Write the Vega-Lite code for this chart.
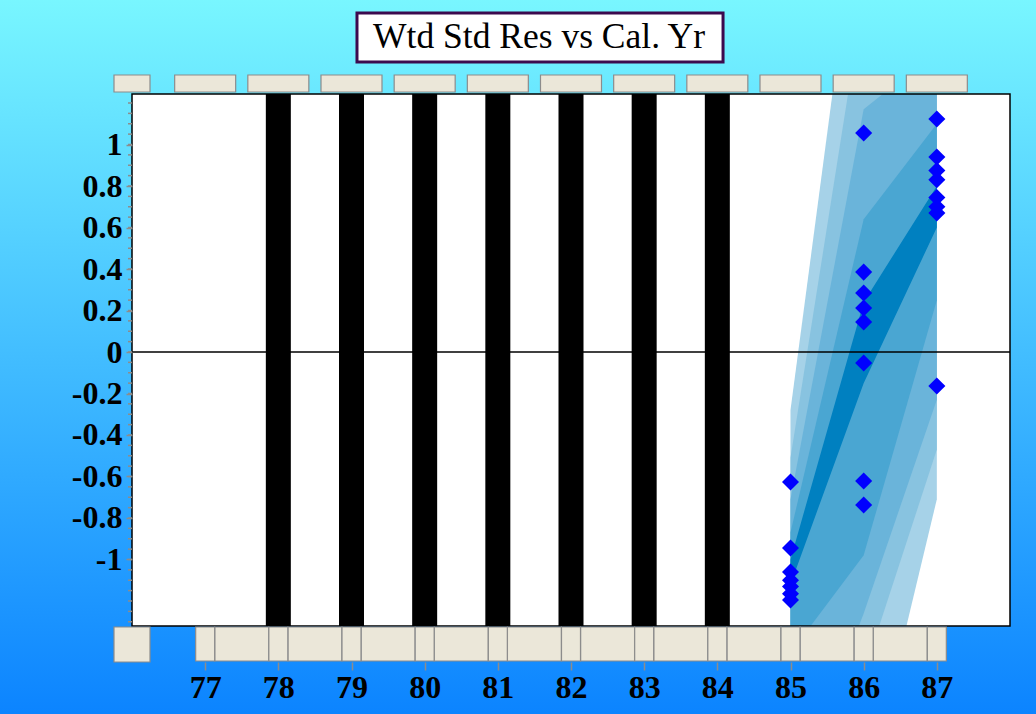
{
  "$schema": "https://vega.github.io/schema/vega-lite/v6.json",
  "width": 878,
  "height": 532,
  "autosize": "none",
  "padding": {"left": 132, "top": 94, "right": 26, "bottom": 88},
  "background": "#2a9cff",
  "config": {"view": {"stroke": null}, "axis": {"grid": false, "domain": false, "zindex": 1}},
  "datasets": {
    "pts": [
      {"year": 85, "v": -0.627}, {"year": 85, "v": -0.945}, {"year": 85, "v": -1.06}, {"year": 85, "v": -1.1}, {"year": 85, "v": -1.13}, {"year": 85, "v": -1.165}, {"year": 85, "v": -1.195},
      {"year": 86, "v": 1.055}, {"year": 86, "v": 0.385}, {"year": 86, "v": 0.284}, {"year": 86, "v": 0.212}, {"year": 86, "v": 0.145}, {"year": 86, "v": -0.053}, {"year": 86, "v": -0.622}, {"year": 86, "v": -0.737},
      {"year": 87, "v": 1.123}, {"year": 87, "v": 0.94}, {"year": 87, "v": 0.875}, {"year": 87, "v": 0.83}, {"year": 87, "v": 0.745}, {"year": 87, "v": 0.7}, {"year": 87, "v": 0.67}, {"year": 87, "v": -0.164}
    ],
    "bands": [
      {"level": 1, "year": 85, "lo": -3.0, "hi": -0.28}, {"level": 1, "year": 86, "lo": -2.18, "hi": 2.38}, {"level": 1, "year": 87, "lo": -0.71, "hi": 3.5},
      {"level": 2, "year": 85, "lo": -2.6, "hi": -0.51}, {"level": 2, "year": 86, "lo": -1.55, "hi": 1.72}, {"level": 2, "year": 87, "lo": -0.47, "hi": 2.6},
      {"level": 3, "year": 85, "lo": -2.2, "hi": -0.71}, {"level": 3, "year": 86, "lo": -1.26, "hi": 1.17}, {"level": 3, "year": 87, "lo": -0.23, "hi": 1.45},
      {"level": 4, "year": 85, "lo": -1.45, "hi": -0.87}, {"level": 4, "year": 86, "lo": -0.98, "hi": 0.64}, {"level": 4, "year": 87, "lo": 0.25, "hi": 1.1},
      {"level": 5, "year": 85, "lo": -1.12, "hi": -1.0}, {"level": 5, "year": 86, "lo": -0.15, "hi": 0.24}, {"level": 5, "year": 87, "lo": 0.6, "hi": 0.8}
    ],
    "gaps": [{"year": 78}, {"year": 79}, {"year": 80}, {"year": 81}, {"year": 82}, {"year": 83}, {"year": 84}],
    "years": [{"year": 77}, {"year": 78}, {"year": 79}, {"year": 80}, {"year": 81}, {"year": 82}, {"year": 83}, {"year": 84}, {"year": 85}, {"year": 86}, {"year": 87}],
    "mids": [{"year": 77.5}, {"year": 78.5}, {"year": 79.5}, {"year": 80.5}, {"year": 81.5}, {"year": 82.5}, {"year": 83.5}, {"year": 84.5}, {"year": 85.5}, {"year": 86.5}],
    "minor": [
      {"v": -1.3}, {"v": -1.25}, {"v": -1.2}, {"v": -1.15}, {"v": -1.1}, {"v": -1.05}, {"v": -1.0}, {"v": -0.95}, {"v": -0.9}, {"v": -0.85}, {"v": -0.8}, {"v": -0.75}, {"v": -0.7}, {"v": -0.65}, {"v": -0.6}, {"v": -0.55}, {"v": -0.5}, {"v": -0.45}, {"v": -0.4}, {"v": -0.35}, {"v": -0.3}, {"v": -0.25}, {"v": -0.2}, {"v": -0.15}, {"v": -0.1}, {"v": -0.05},
      {"v": 0}, {"v": 0.05}, {"v": 0.1}, {"v": 0.15}, {"v": 0.2}, {"v": 0.25}, {"v": 0.3}, {"v": 0.35}, {"v": 0.4}, {"v": 0.45}, {"v": 0.5}, {"v": 0.55}, {"v": 0.6}, {"v": 0.65}, {"v": 0.7}, {"v": 0.75}, {"v": 0.8}, {"v": 0.85}, {"v": 0.9}, {"v": 0.95}, {"v": 1.0}, {"v": 1.05}, {"v": 1.1}, {"v": 1.15}, {"v": 1.2}
    ]
  },
  "layer": [
    {
      "data": {"values": [{}]},
      "mark": {"type": "rect", "clip": false, "fill": {"gradient": "linear", "x1": 0, "y1": 0, "x2": 0, "y2": 1, "stops": [{"offset": 0, "color": "#7af8ff"}, {"offset": 1, "color": "#0a82ff"}]}},
      "encoding": {
        "x": {"datum": 74.1, "type": "quantitative", "scale": {"domain": [76, 88], "nice": false, "zero": false, "padding": 0},
          "axis": {"values": [77, 78, 79, 80, 81, 82, 83, 84, 85, 86, 87], "format": "d", "title": null, "offset": 36, "tickSize": 8, "tickColor": "#8c8c8c", "tickWidth": 1.5, "labelFont": "Liberation Serif", "labelFontWeight": "bold", "labelFontSize": 32, "labelColor": "#000000", "labelPadding": 2, "labelFlush": false, "labelOverlap": false, "domain": false, "grid": false, "zindex": 1}},
        "x2": {"datum": 88.5},
        "y": {"datum": 1.75, "type": "quantitative", "scale": {"domain": [-1.3205, 1.2434], "nice": false, "zero": false, "padding": 0},
          "axis": {"values": [-1, -0.8, -0.6, -0.4, -0.2, 0, 0.2, 0.4, 0.6, 0.8, 1], "title": null, "tickSize": 6, "tickColor": "#8c8c8c", "tickWidth": 1.5, "labelFont": "Liberation Serif", "labelFontWeight": "bold", "labelFontSize": 32, "labelColor": "#000000", "labelPadding": 4, "labelFlush": false, "labelOverlap": false, "labelExpr": "'' + round(datum.value * 10) / 10", "domain": false, "grid": false, "zindex": 1}},
        "y2": {"datum": -1.8}
      }
    },
    {
      "data": {"values": [{}]},
      "mark": {"type": "rect", "fill": "#ffffff"},
      "encoding": {
        "x": {"datum": 76, "type": "quantitative", "scale": {"domain": [76, 88], "nice": false, "zero": false, "padding": 0}},
        "x2": {"datum": 88},
        "y": {"datum": -1.3205, "type": "quantitative", "scale": {"domain": [-1.3205, 1.2434], "nice": false, "zero": false, "padding": 0}},
        "y2": {"datum": 1.2434}
      }
    },
    {
      "data": {"name": "bands"},
      "transform": [{"filter": "datum.level == 1"}],
      "mark": {"type": "area", "clip": true, "color": "#a6d2e8", "opacity": 1},
      "encoding": {
        "x": {"field": "year", "type": "quantitative", "scale": {"domain": [76, 88], "nice": false, "zero": false, "padding": 0}},
        "y": {"field": "lo", "type": "quantitative", "scale": {"domain": [-1.3205, 1.2434], "nice": false, "zero": false, "padding": 0}},
        "y2": {"field": "hi"}
      }
    },
    {
      "data": {"name": "bands"},
      "transform": [{"filter": "datum.level == 2"}],
      "mark": {"type": "area", "clip": true, "color": "#88c3e0", "opacity": 1},
      "encoding": {
        "x": {"field": "year", "type": "quantitative", "scale": {"domain": [76, 88], "nice": false, "zero": false, "padding": 0}},
        "y": {"field": "lo", "type": "quantitative", "scale": {"domain": [-1.3205, 1.2434], "nice": false, "zero": false, "padding": 0}},
        "y2": {"field": "hi"}
      }
    },
    {
      "data": {"name": "bands"},
      "transform": [{"filter": "datum.level == 3"}],
      "mark": {"type": "area", "clip": true, "color": "#6ab4da", "opacity": 1},
      "encoding": {
        "x": {"field": "year", "type": "quantitative", "scale": {"domain": [76, 88], "nice": false, "zero": false, "padding": 0}},
        "y": {"field": "lo", "type": "quantitative", "scale": {"domain": [-1.3205, 1.2434], "nice": false, "zero": false, "padding": 0}},
        "y2": {"field": "hi"}
      }
    },
    {
      "data": {"name": "bands"},
      "transform": [{"filter": "datum.level == 4"}],
      "mark": {"type": "area", "clip": true, "color": "#4aa6d2", "opacity": 1},
      "encoding": {
        "x": {"field": "year", "type": "quantitative", "scale": {"domain": [76, 88], "nice": false, "zero": false, "padding": 0}},
        "y": {"field": "lo", "type": "quantitative", "scale": {"domain": [-1.3205, 1.2434], "nice": false, "zero": false, "padding": 0}},
        "y2": {"field": "hi"}
      }
    },
    {
      "data": {"name": "bands"},
      "transform": [{"filter": "datum.level == 5"}],
      "mark": {"type": "area", "clip": true, "color": "#0080c0", "opacity": 1},
      "encoding": {
        "x": {"field": "year", "type": "quantitative", "scale": {"domain": [76, 88], "nice": false, "zero": false, "padding": 0}},
        "y": {"field": "lo", "type": "quantitative", "scale": {"domain": [-1.3205, 1.2434], "nice": false, "zero": false, "padding": 0}},
        "y2": {"field": "hi"}
      }
    },
    {
      "data": {"name": "gaps"},
      "mark": {"type": "bar", "orient": "vertical", "clip": true, "size": 25, "color": "#000000"},
      "encoding": {
        "x": {"field": "year", "type": "quantitative", "scale": {"domain": [76, 88], "nice": false, "zero": false, "padding": 0}},
        "y": {"datum": -2, "type": "quantitative", "scale": {"domain": [-1.3205, 1.2434], "nice": false, "zero": false, "padding": 0}},
        "y2": {"datum": 2}
      }
    },
    {
      "data": {"values": [{}]},
      "mark": {"type": "rule", "color": "#000000", "strokeWidth": 1.5},
      "encoding": {
        "y": {"datum": 0, "type": "quantitative", "scale": {"domain": [-1.3205, 1.2434], "nice": false, "zero": false, "padding": 0}}
      }
    },
    {
      "data": {"name": "pts"},
      "mark": {"type": "point", "shape": "diamond", "filled": true, "size": 290, "color": "#0000ff", "opacity": 1, "strokeWidth": 0},
      "encoding": {
        "x": {"field": "year", "type": "quantitative", "scale": {"domain": [76, 88], "nice": false, "zero": false, "padding": 0}},
        "y": {"field": "v", "type": "quantitative", "scale": {"domain": [-1.3205, 1.2434], "nice": false, "zero": false, "padding": 0}}
      }
    },
    {
      "data": {"values": [{}]},
      "mark": {"type": "rect", "fillOpacity": 0, "stroke": "#000000", "strokeWidth": 1.5},
      "encoding": {
        "x": {"datum": 76, "type": "quantitative", "scale": {"domain": [76, 88], "nice": false, "zero": false, "padding": 0}},
        "x2": {"datum": 88},
        "y": {"datum": -1.3205, "type": "quantitative", "scale": {"domain": [-1.3205, 1.2434], "nice": false, "zero": false, "padding": 0}},
        "y2": {"datum": 1.2434}
      }
    },
    {
      "data": {"name": "minor"},
      "mark": {"type": "rule", "clip": false, "color": "#8c8c8c", "strokeWidth": 1.5},
      "encoding": {
        "x": {"datum": 75.945, "type": "quantitative", "scale": {"domain": [76, 88], "nice": false, "zero": false, "padding": 0}},
        "x2": {"datum": 76},
        "y": {"field": "v", "type": "quantitative", "scale": {"domain": [-1.3205, 1.2434], "nice": false, "zero": false, "padding": 0}}
      }
    },
    {
      "data": {"values": [{}]},
      "mark": {"type": "bar", "orient": "vertical", "clip": false, "size": 36, "color": "#ebe7d9", "stroke": "#8c8c8c", "strokeWidth": 1.2},
      "encoding": {
        "x": {"datum": 76, "type": "quantitative", "scale": {"domain": [76, 88], "nice": false, "zero": false, "padding": 0}},
        "y": {"datum": 1.335, "type": "quantitative", "scale": {"domain": [-1.3205, 1.2434], "nice": false, "zero": false, "padding": 0}},
        "y2": {"datum": 1.253}
      }
    },
    {
      "data": {"name": "years"},
      "mark": {"type": "bar", "orient": "vertical", "clip": false, "size": 61, "color": "#ebe7d9", "stroke": "#8c8c8c", "strokeWidth": 1.2},
      "encoding": {
        "x": {"field": "year", "type": "quantitative", "scale": {"domain": [76, 88], "nice": false, "zero": false, "padding": 0}},
        "y": {"datum": 1.335, "type": "quantitative", "scale": {"domain": [-1.3205, 1.2434], "nice": false, "zero": false, "padding": 0}},
        "y2": {"datum": 1.253}
      }
    },
    {
      "data": {"values": [{}]},
      "mark": {"type": "bar", "orient": "vertical", "clip": false, "size": 36, "color": "#ebe7d9", "stroke": "#8c8c8c", "strokeWidth": 1.2},
      "encoding": {
        "x": {"datum": 76, "type": "quantitative", "scale": {"domain": [76, 88], "nice": false, "zero": false, "padding": 0}},
        "y": {"datum": -1.3253, "type": "quantitative", "scale": {"domain": [-1.3205, 1.2434], "nice": false, "zero": false, "padding": 0}},
        "y2": {"datum": -1.494}
      }
    },
    {
      "data": {"name": "mids"},
      "mark": {"type": "bar", "orient": "vertical", "clip": false, "size": 54, "color": "#ebe7d9", "stroke": "#8c8c8c", "strokeWidth": 1.2},
      "encoding": {
        "x": {"field": "year", "type": "quantitative", "scale": {"domain": [76, 88], "nice": false, "zero": false, "padding": 0}},
        "y": {"datum": -1.3253, "type": "quantitative", "scale": {"domain": [-1.3205, 1.2434], "nice": false, "zero": false, "padding": 0}},
        "y2": {"datum": -1.4892}
      }
    },
    {
      "data": {"name": "years"},
      "mark": {"type": "bar", "orient": "vertical", "clip": false, "size": 19, "color": "#ebe7d9", "stroke": "#8c8c8c", "strokeWidth": 1.2},
      "encoding": {
        "x": {"field": "year", "type": "quantitative", "scale": {"domain": [76, 88], "nice": false, "zero": false, "padding": 0}},
        "y": {"datum": -1.3253, "type": "quantitative", "scale": {"domain": [-1.3205, 1.2434], "nice": false, "zero": false, "padding": 0}},
        "y2": {"datum": -1.4892}
      }
    },
    {
      "data": {"values": [{}]},
      "mark": {"type": "rect", "clip": false, "fill": "#ffffff", "stroke": "#3c0a4e", "strokeWidth": 3},
      "encoding": {
        "x": {"datum": 79.075, "type": "quantitative", "scale": {"domain": [76, 88], "nice": false, "zero": false, "padding": 0}},
        "x2": {"datum": 84.078},
        "y": {"datum": 1.634, "type": "quantitative", "scale": {"domain": [-1.3205, 1.2434], "nice": false, "zero": false, "padding": 0}},
        "y2": {"datum": 1.398}
      }
    },
    {
      "data": {"values": [{}]},
      "mark": {"type": "text", "clip": false, "text": "Wtd Std Res vs Cal. Yr", "font": "Liberation Serif", "fontSize": 35.5, "align": "center", "baseline": "alphabetic", "color": "#000000"},
      "encoding": {
        "x": {"datum": 81.563, "type": "quantitative", "scale": {"domain": [76, 88], "nice": false, "zero": false, "padding": 0}},
        "y": {"datum": 1.465, "type": "quantitative", "scale": {"domain": [-1.3205, 1.2434], "nice": false, "zero": false, "padding": 0}}
      }
    }
  ]
}
